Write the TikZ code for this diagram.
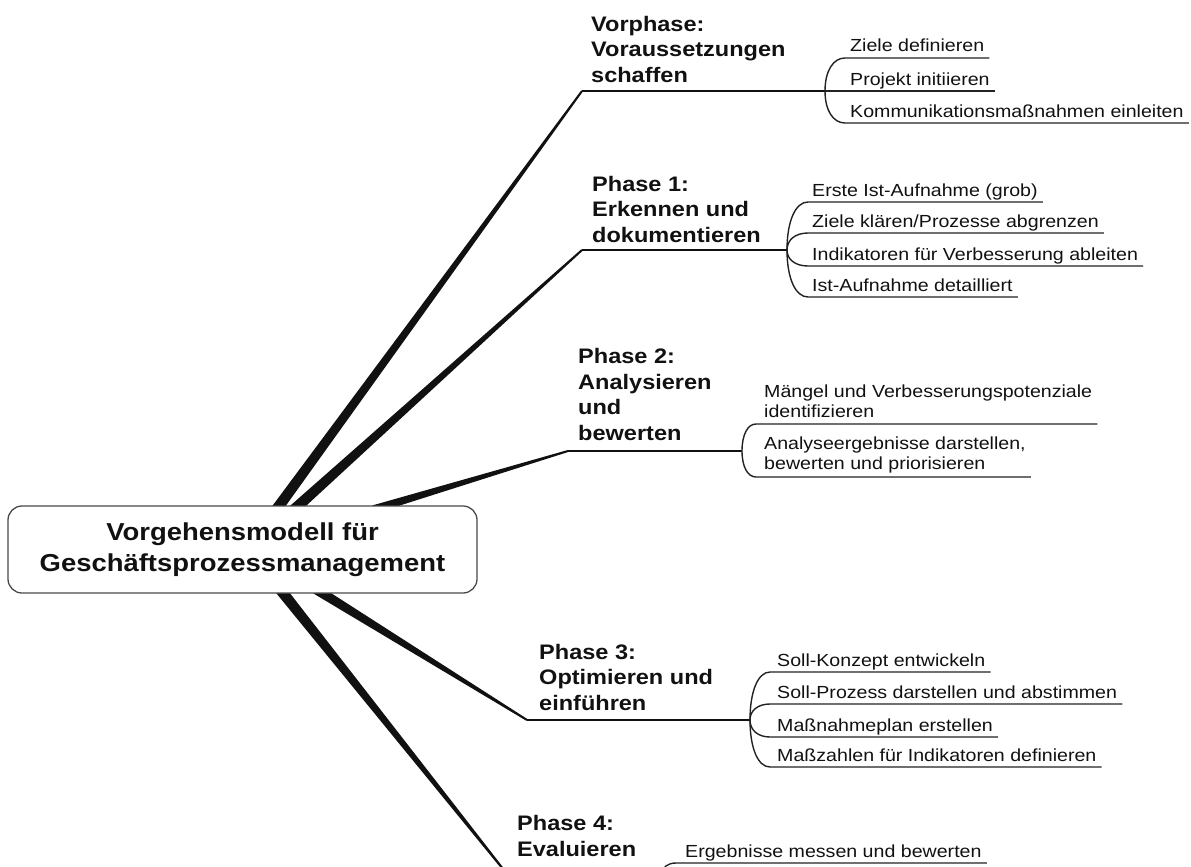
\documentclass[tikz,border=0pt]{standalone}
\usepackage{fontspec}
\setmainfont{Liberation Sans}[FakeStretch=1.12]
\usetikzlibrary{calc}

\definecolor{ink}{HTML}{111111}
\definecolor{frame}{HTML}{4A4A4A}
\definecolor{rulecol}{HTML}{222222}

\tikzset{
  rootbox/.style={draw=frame, line width=1.3pt, fill=white, rounded corners=14pt,
    minimum width=469pt, minimum height=87pt, align=center, inner sep=0pt,
    font=\fontsize{24.5}{31.5}\selectfont\bfseries, text=ink},
  phase/.style={anchor=base west, inner sep=0pt, align=left,
    font=\fontsize{21}{25.5}\selectfont\bfseries, text=ink},
  item/.style={anchor=base west, inner sep=0pt, align=left,
    font=\fontsize{17.5}{20}\selectfont, text=ink},
  phaserule/.style={draw=ink, line width=2pt},
  itemrule/.style={draw=rulecol, line width=1.4pt},
}

% tapered main branch: #1 point on the box, #2 end point, #3 half width at the box
\newcommand\mmbranch[3]{%
  \path ($(#1)!-12pt!(#2)$) coordinate (mmtmp);
  \fill[ink] ($(mmtmp)!#3!90:(#2)$) -- ($(#2)!1pt!-90:(mmtmp)$)
    -- ($(#2)!1pt!90:(mmtmp)$) -- ($(mmtmp)!#3!-90:(#2)$) -- cycle;}

% bracket curve from fork point #1 to rule start #2, then rule under node #3
\newcommand\mmfork[3]{%
  \draw[itemrule] (#1) .. controls ($(#1)!0.6!(#1|-#2)$) and ($(#2)!0.6!(#1|-#2)$) .. (#2)
    -- ($(#2-|#3.east)+(5,0)$);}

\begin{document}
\begin{tikzpicture}[x=1pt,y=-1pt]
\useasboundingbox (0,0) rectangle (1191,867);
\clip (0,0) rectangle (1191,867);

% anchor points of the branches on the central box
\coordinate (B0) at (279,506);
\coordinate (B1) at (298,506);
\coordinate (B2) at (385,506);
\coordinate (B3) at (322,593);
\coordinate (B4) at (283,593);

% ends of the branches and fork points
\coordinate (D0) at (582,91);  \coordinate (P0) at (825,91);
\coordinate (D1) at (582,250); \coordinate (P1) at (787,250);
\coordinate (D2) at (568,451); \coordinate (P2) at (742,451);
\coordinate (D3) at (527,720); \coordinate (P3) at (750,720);
\coordinate (D4) at (507,874); \coordinate (P4) at (662,874);

\mmbranch{B0}{D0}{5.5pt}
\mmbranch{B1}{D1}{5.5pt}
\mmbranch{B2}{D2}{4.2pt}
\mmbranch{B3}{D3}{5pt}
\mmbranch{B4}{D4}{5.5pt}

\node[rootbox] (root) at (242.5,549.5) {Vorgehensmodell für\\Geschäftsprozessmanagement};

% phase rules
\draw[phaserule] (D0) -- (P0);
\draw[phaserule] (D1) -- (P1);
\draw[phaserule] (D2) -- (P2);
\draw[phaserule] (D3) -- (P3);
\draw[phaserule] (D4) -- (P4);

% phase labels (placed by the baseline of their last line)
\node[phase] (l0) at (591,82) {Vorphase:\\Voraussetzungen\\schaffen};
\node[phase] (l1) at (592,242) {Phase 1:\\Erkennen und\\dokumentieren};
\node[phase] (l2) at (578,440) {Phase 2:\\Analysieren\\und\\bewerten};
\node[phase] (l3) at (539,710) {Phase 3:\\Optimieren und\\einführen};
\node[phase] (l4) at (517,856) {Phase 4:\\Evaluieren};

% Vorphase items
\coordinate (s01) at (845,58);  \node[item] (i01) at (850,52) {Ziele definieren};
\coordinate (s02) at (845,91);  \node[item] (i02) at (850,85) {Projekt initiieren};
\coordinate (s03) at (845,123); \node[item] (i03) at (850,117) {Kommunikationsmaßnahmen einleiten};
\mmfork{P0}{s01}{i01}
\mmfork{P0}{s02}{i02}
\mmfork{P0}{s03}{i03}

% Phase 1 items
\coordinate (s11) at (808,202); \node[item] (i11) at (812,196) {Erste Ist-Aufnahme (grob)};
\coordinate (s12) at (808,233); \node[item] (i12) at (812,227) {Ziele klären/Prozesse abgrenzen};
\coordinate (s13) at (808,266); \node[item] (i13) at (812,260) {Indikatoren für Verbesserung ableiten};
\coordinate (s14) at (808,297); \node[item] (i14) at (812,291) {Ist-Aufnahme detailliert};
\mmfork{P1}{s11}{i11}
\mmfork{P1}{s12}{i12}
\mmfork{P1}{s13}{i13}
\mmfork{P1}{s14}{i14}

% Phase 2 items
\coordinate (s21) at (756,424); \node[item] (i21) at (764,417) {Mängel und Verbesserungspotenziale\\identifizieren};
\coordinate (s22) at (756,477); \node[item] (i22) at (764,469) {Analyseergebnisse darstellen,\\bewerten und priorisieren};
\mmfork{P2}{s21}{i21}
\mmfork{P2}{s22}{i22}

% Phase 3 items
\coordinate (s31) at (770,672); \node[item] (i31) at (777,666) {Soll-Konzept entwickeln};
\coordinate (s32) at (770,704); \node[item] (i32) at (777,698) {Soll-Prozess darstellen und abstimmen};
\coordinate (s33) at (770,737); \node[item] (i33) at (777,731) {Maßnahmeplan erstellen};
\coordinate (s34) at (770,767); \node[item] (i34) at (777,761) {Maßzahlen für Indikatoren definieren};
\mmfork{P3}{s31}{i31}
\mmfork{P3}{s32}{i32}
\mmfork{P3}{s33}{i33}
\mmfork{P3}{s34}{i34}

% Phase 4 items
\coordinate (s41) at (676,863); \node[item] (i41) at (685,857) {Ergebnisse messen und bewerten};
\mmfork{P4}{s41}{i41}
\end{tikzpicture}
\end{document}
